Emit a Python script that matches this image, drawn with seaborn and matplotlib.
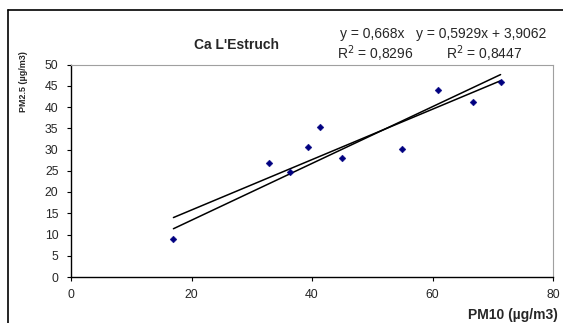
import numpy as np
import pandas as pd
import matplotlib
matplotlib.use("Agg")
import matplotlib.pyplot as plt
import seaborn as sns

# PM10 vs PM2.5 daily concentrations at Ca L'Estruch
pm10 = [17.0, 32.9, 36.4, 39.3, 41.4, 45.0, 54.9, 60.9, 66.7, 71.3]
pm25 = [9.0, 26.9, 24.8, 30.6, 35.3, 28.0, 30.2, 44.1, 41.2, 45.9]

# trend lines (coefficients as shown on the chart)
slope_origin = 0.668
r2_origin = 0.8296
slope_fit = 0.5929
intercept_fit = 3.9062
r2_fit = 0.8447

x_ticks = [0, 20, 40, 60, 80]
y_ticks = [0, 5, 10, 15, 20, 25, 30, 35, 40, 45, 50]

sns.set_style("white")
plt.rcParams["font.family"] = ["Liberation Sans", "DejaVu Sans"]

W, H = 563, 323
fig = plt.figure(figsize=(W / 100, H / 100), dpi=100)
ax = fig.add_axes([71 / W, 1 - 277 / H, (553 - 71) / W, (277 - 64.5) / H])

df = pd.DataFrame({"PM10": pm10, "PM2.5": pm25})
sns.scatterplot(data=df, x="PM10", y="PM2.5", ax=ax, marker="D", s=12,
                color="#000080", edgecolor="#000080", linewidth=0.3, zorder=3)

xs = np.array([min(pm10), max(pm10)])
line_df = pd.DataFrame({
    "x": np.concatenate([xs, xs]),
    "y": np.concatenate([slope_origin * xs, slope_fit * xs + intercept_fit]),
    "fit": ["origin", "origin", "linear", "linear"],
})
sns.lineplot(data=line_df, x="x", y="y", units="fit", estimator=None,
             color="black", linewidth=1.1, ax=ax, zorder=2)

ax.set_xlim(0, 80)
ax.set_ylim(0, 50)
ax.set_xticks(x_ticks)
ax.set_yticks(y_ticks)
ax.tick_params(axis="both", direction="out", length=3, width=0.8, color="black",
               labelsize=8.8, bottom=True, left=True)
ax.tick_params(axis="y", pad=6)
ax.tick_params(axis="x", pad=5.5)
ax.set_xlabel("")
ax.set_ylabel("")

for side in ["left", "bottom"]:
    ax.spines[side].set_color("black")
    ax.spines[side].set_linewidth(1.0)
for side in ["top", "right"]:
    ax.spines[side].set_color("#a0a0a0")
    ax.spines[side].set_linewidth(0.8)

# chart-area frame
fig.add_artist(plt.Line2D([8 / W, 8 / W], [0, 1 - 10 / H], color="black", lw=1.2,
                          transform=fig.transFigure))
fig.add_artist(plt.Line2D([8 / W, 1], [1 - 10 / H, 1 - 10 / H], color="black", lw=1.2,
                          transform=fig.transFigure))


def fx(px):
    return px / W


def fy(py):
    return 1 - py / H


fig.text(fx(236), fy(45), "Ca L'Estruch", ha="center", va="center",
         fontsize=10, fontweight="bold")
fig.text(fx(24), fy(82), "PM2.5 (µg/m3)", ha="center", va="center",
         rotation=90, fontsize=6.5, fontweight="bold")
fig.text(fx(558), fy(315), "PM10 (µg/m3)", ha="right", va="center",
         fontsize=10, fontweight="bold")


def fmt(v):
    return f"{v:g}".replace(".", ",")


fig.text(fx(340), fy(34), f"y = {fmt(slope_origin)}x", ha="left", va="center", fontsize=10)
fig.text(fx(416), fy(34), f"y = {fmt(slope_fit)}x + {fmt(intercept_fit)}",
         ha="left", va="center", fontsize=10)
fig.text(fx(337), fy(54), f"R$^2$ = {fmt(r2_origin)}", ha="left", va="center", fontsize=10)
fig.text(fx(446), fy(54), f"R$^2$ = {fmt(r2_fit)}", ha="left", va="center", fontsize=10)

fig.savefig("out.png", dpi=100)
